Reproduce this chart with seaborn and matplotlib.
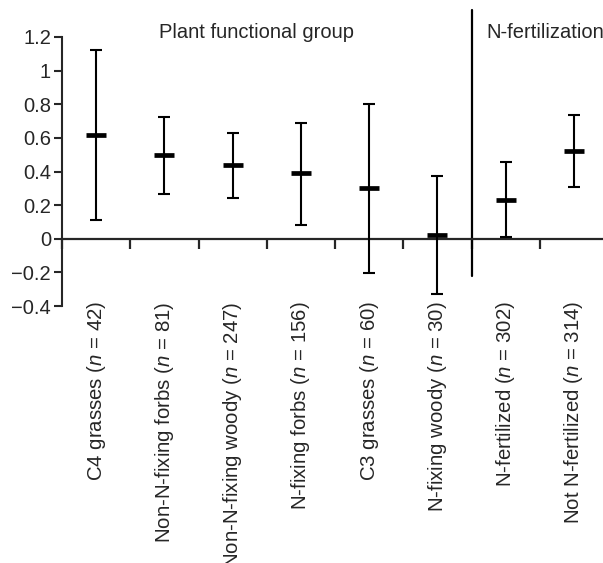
import matplotlib
matplotlib.use("Agg")
import matplotlib.pyplot as plt
import seaborn as sns
import numpy as np
import pandas as pd

groups = ["C4 grasses", "Non-N-fixing forbs", "Non-N-fixing woody", "N-fixing forbs",
          "C3 grasses", "N-fixing woody", "N-fertilized", "Not N-fertilized"]
n_values = [42, 81, 247, 156, 60, 30, 302, 314]
means = [0.62, 0.497, 0.438, 0.39, 0.301, 0.024, 0.23, 0.521]
upper = [1.123, 0.725, 0.63, 0.689, 0.802, 0.376, 0.458, 0.737]
lower = [0.113, 0.269, 0.244, 0.083, -0.202, -0.327, 0.008, 0.309]
yticks = [-0.4, -0.2, 0, 0.2, 0.4, 0.6, 0.8, 1, 1.2]
ytick_labels = ["\u22120.4", "\u22120.2", "0", "0.2", "0.4", "0.6", "0.8", "1", "1.2"]

sns.set_style("ticks")
plt.rcParams['font.family'] = ['Liberation Sans', 'DejaVu Sans']
plt.rcParams['mathtext.fontset'] = 'custom'
plt.rcParams['mathtext.rm'] = 'Liberation Sans'
plt.rcParams['mathtext.it'] = 'Liberation Sans:italic'

TXT = "#262626"

df = pd.DataFrame({"group": groups, "mean": means, "upper": upper, "lower": lower})
df["x"] = np.arange(len(groups))

fig = plt.figure(figsize=(6.03, 5.63), dpi=100)
ax = fig.add_axes([62 / 603, 1 - 306 / 563, 546 / 603, 269 / 563])

x = df["x"].to_numpy()
yerr = np.vstack([df["mean"] - df["lower"], df["upper"] - df["mean"]])
ax.errorbar(x, df["mean"], yerr=yerr, fmt="none", ecolor="black",
            elinewidth=1.5, capsize=4.5, capthick=1.5, zorder=3)
sns.scatterplot(data=df, x="x", y="mean", marker="_", s=225, color="black",
                linewidth=3.4, ax=ax, zorder=4, legend=False)

ax.set_xlim(-0.5, len(groups) - 0.5)
ax.set_ylim(-0.4, 1.2)
ax.set_yticks(yticks)
ax.set_yticklabels(ytick_labels)

ax.spines["top"].set_visible(False)
ax.spines["right"].set_visible(False)
ax.spines["bottom"].set_position(("data", 0))
ax.spines["bottom"].set_linewidth(1.6)
ax.spines["left"].set_linewidth(1.5)
ax.set_xlabel("")
ax.set_ylabel("")

labels = [f"{g} ($n$ = {n})" for g, n in zip(groups, n_values)]
ax.set_xticks(x)
ax.set_xticks(np.arange(len(groups) + 1) - 0.5, minor=True)
ax.tick_params(axis="x", which="major", length=0, pad=45, labelsize=14.7,
               labelrotation=90, labelcolor=TXT)
ax.tick_params(axis="x", which="minor", length=7, width=1.6, direction="out")
ax.tick_params(axis="y", length=6, width=1.5, labelsize=14.5, pad=2, labelcolor=TXT)
ax.set_xticklabels(labels)
for t in ax.get_xticklabels():
    t.set_rotation(90)
    t.set_va("top")
    t.set_ha("center")

ax.plot([5.5, 5.5], [-0.22, 1.36], color="black", lw=1.6, clip_on=False)
ax.text(2.35, 1.225, "Plant functional group", ha="center", va="center",
        fontsize=14.5, color=TXT, clip_on=False)
ax.text(5.72, 1.225, "N-fertilization", ha="left", va="center",
        fontsize=14.5, color=TXT, clip_on=False)

fig.savefig("out.png", dpi=100)
